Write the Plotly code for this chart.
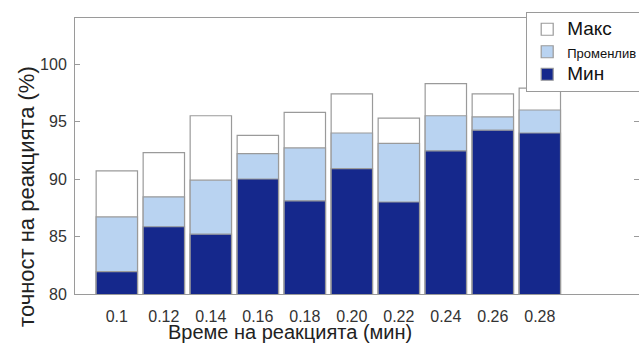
import plotly.graph_objects as go

categories = ["0.1", "0.12", "0.14", "0.16", "0.18", "0.20", "0.22", "0.24", "0.26", "0.28"]
max_vals = [90.7, 92.3, 95.5, 93.8, 95.8, 97.4, 95.3, 98.3, 97.4, 97.9]
var_vals = [86.7, 88.45, 89.9, 92.2, 92.7, 94.0, 93.1, 95.5, 95.4, 96.0]
min_vals = [81.95, 85.85, 85.2, 90.0, 88.1, 90.9, 88.0, 92.45, 94.25, 94.0]

font_family = "Liberation Sans, Arial, sans-serif"
edge = dict(color="#9a9a9a", width=1.2)

fig = go.Figure()
fig.add_trace(go.Bar(x=categories, y=max_vals, name="<span style='font-size:19px'>Макс</span>",
                     marker=dict(color="white", line=edge), width=0.88))
fig.add_trace(go.Bar(x=categories, y=var_vals, name="<span style='font-size:13px'>Променлив</span>",
                     marker=dict(color="#b9d3f1", line=edge), width=0.88))
fig.add_trace(go.Bar(x=categories, y=min_vals, name="<span style='font-size:19px'>Мин</span>",
                     marker=dict(color="#15288c", line=edge), width=0.88))

fig.update_layout(
    width=639, height=343,
    barmode="overlay",
    plot_bgcolor="white", paper_bgcolor="white",
    margin=dict(l=75, r=0, t=18, b=49, autoexpand=False),
    font=dict(family=font_family, color="#222222"),
    legend=dict(x=0.800, y=1.0217, xanchor="left", yanchor="top",
                bgcolor="white", bordercolor="#9a9a9a", borderwidth=1,
                font=dict(size=15, color="#111111"), traceorder="normal", tracegroupgap=0),
    xaxis=dict(type="category", range=[-0.89, 11.11], showline=True, linecolor="#9a9a9a",
               mirror=True, ticks="", showgrid=False, ticklabelstandoff=8,
               tickfont=dict(size=16, color="#333333")),
    yaxis=dict(range=[80, 104], dtick=5, tick0=80, showline=True, linecolor="#9a9a9a",
               mirror="ticks", ticks="inside", ticklen=5, tickcolor="#9a9a9a", ticklabelstandoff=4,
               showgrid=False, zeroline=False, tickfont=dict(size=16, color="#333333")),
    annotations=[
        dict(text="точност на реакцията (%)", xref="paper", yref="paper", x=-0.085, y=0.352,
             xanchor="center", yanchor="middle", textangle=-90, showarrow=False,
             font=dict(size=22, color="#222222")),
        dict(text="Време на реакцията (мин)", xref="paper", yref="paper", x=0.381, y=-0.138,
             xanchor="center", yanchor="middle", showarrow=False,
             font=dict(size=20, color="#222222")),
    ],
)

fig.write_html("out.html", config={"displayModeBar": False},
               post_script="document.body.style.margin='0';document.body.style.overflow='hidden';")
